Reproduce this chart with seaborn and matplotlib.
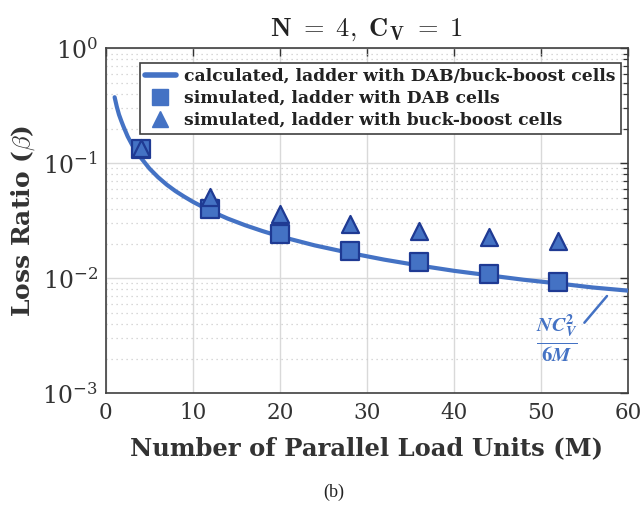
import matplotlib
matplotlib.use("Agg")
import matplotlib.pyplot as plt
import seaborn as sns
import numpy as np
import pandas as pd
from matplotlib.lines import Line2D
from matplotlib.ticker import LogLocator, NullFormatter

# ---- data ----
M_line = [1, 1.25, 1.5, 1.75, 2, 2.5, 3, 3.5, 4, 5, 6, 7, 8, 9, 10, 12, 14, 16, 18,
          20, 24, 28, 32, 36, 40, 44, 48, 52, 56, 60]
beta_calc = [0.375, 0.31, 0.265, 0.235, 0.21, 0.171, 0.145, 0.126, 0.112, 0.090,
             0.0755, 0.065, 0.0572, 0.0512, 0.0462, 0.0385, 0.0330, 0.0289, 0.0257,
             0.0231, 0.0193, 0.0166, 0.0145, 0.0129, 0.0116, 0.0106, 0.0097, 0.0090,
             0.0083, 0.0078]
M_sim = [4, 12, 20, 28, 36, 44, 52]
beta_dab = [0.132, 0.0400, 0.0241, 0.0174, 0.0137, 0.0109, 0.0092]
beta_bb = [0.135, 0.0510, 0.0362, 0.0295, 0.0259, 0.0230, 0.0211]
x_ticks = [0, 10, 20, 30, 40, 50, 60]

title_txt = r'$\mathbf{N\ =\ 4,\ C_V\ =\ 1}$'
xlabel_txt = 'Number of Parallel Load Units (M)'
ylabel_txt = r'Loss Ratio ($\beta$)'
leg_labels = ['calculated, ladder with DAB/buck-boost cells',
              'simulated, ladder with DAB cells',
              'simulated, ladder with buck-boost cells']
formula_txt = r'$\frac{\mathbfit{NC}_{\mathbfit{V}}^{\mathbf{2}}}{\mathbf{6}\mathbfit{M}}$'
caption = '(b)'

BLUE = '#4472C4'
NAVY = '#1F3A93'

sns.set_style("white")
plt.rcParams['font.family'] = ['DejaVu Serif']
plt.rcParams['mathtext.fontset'] = 'cm'

fig = plt.figure(figsize=(6.42, 5.08), dpi=100)
ax = fig.add_axes([0.165, 0.226, 0.813, 0.679])

df_line = pd.DataFrame({'M': M_line, 'beta': beta_calc})
df_sim = pd.DataFrame({'M': M_sim, 'dab': beta_dab, 'bb': beta_bb})

sns.lineplot(data=df_line, x='M', y='beta', ax=ax, color=BLUE, lw=3, zorder=3)
sns.scatterplot(data=df_sim, x='M', y='dab', ax=ax, marker='s', s=160, color=BLUE,
                edgecolor=NAVY, linewidth=1.6, zorder=4)
sns.scatterplot(data=df_sim, x='M', y='bb', ax=ax, marker='^', s=150, color=BLUE,
                edgecolor=NAVY, linewidth=1.6, zorder=5)

ax.set_yscale('log')
ax.set_xlim(0, 60)
ax.set_ylim(1e-3, 1)
ax.set_xticks(x_ticks)
ax.set_xticklabels([str(t) for t in x_ticks])
ax.yaxis.set_minor_locator(LogLocator(base=10, subs=np.arange(2, 10)))
ax.yaxis.set_minor_formatter(NullFormatter())

ax.grid(True, which='major', axis='both', color='#d9d9d9', lw=1.0, ls='-')
ax.grid(True, which='minor', axis='y', color='#cccccc', lw=0.9, ls=(0, (1, 3)))
ax.set_axisbelow(True)

ax.tick_params(which='both', direction='in', top=True, right=True, colors='#333333',
               labelcolor='#333333')
ax.tick_params(which='major', length=6, width=1.0, pad=6)
ax.tick_params(axis='y', which='major', labelsize=17)
ax.tick_params(axis='x', which='major', labelsize=15.5)
ax.tick_params(which='minor', length=3.5, width=0.9)
for lab in ax.get_xticklabels() + ax.get_yticklabels():
    lab.set_fontfamily('serif')
for s in ax.spines.values():
    s.set_color('#404040')
    s.set_linewidth(1.2)

ax.set_xlabel(xlabel_txt, fontsize=17.5, fontweight='bold', color='#333333', labelpad=9)
ax.set_ylabel(ylabel_txt, fontsize=18, fontweight='bold', color='#333333', labelpad=4)
ax.set_title(title_txt, fontsize=19, color='#222222', pad=9)

handles = [Line2D([], [], color=BLUE, lw=4),
           Line2D([], [], color=BLUE, marker='s', ls='', markersize=12),
           Line2D([], [], color=BLUE, marker='^', ls='', markersize=12)]
leg = ax.legend(handles, leg_labels, loc='upper right', bbox_to_anchor=(0.993, 0.968),
                fancybox=False, framealpha=1, edgecolor='#404040',
                prop={'family': 'DejaVu Serif', 'weight': 'bold', 'size': 12.3},
                handlelength=1.8, handletextpad=0.5, borderpad=0.3, labelspacing=0.3,
                borderaxespad=0.2)
leg.get_frame().set_linewidth(1.2)
for t in leg.get_texts():
    t.set_color('#222222')

# annotation of formula
ax.plot([55.0, 57.6], [0.0041, 0.0070], color=BLUE, lw=1.8)
ax.text(51.8, 0.0030, formula_txt, color=BLUE, fontsize=21, ha='center', va='center',
        math_fontfamily='stix')

fig.text(0.52, 0.031, caption, ha='center', va='center', fontsize=13,
         family='Liberation Serif', color='#222222')

fig.savefig('out.png', dpi=100)
